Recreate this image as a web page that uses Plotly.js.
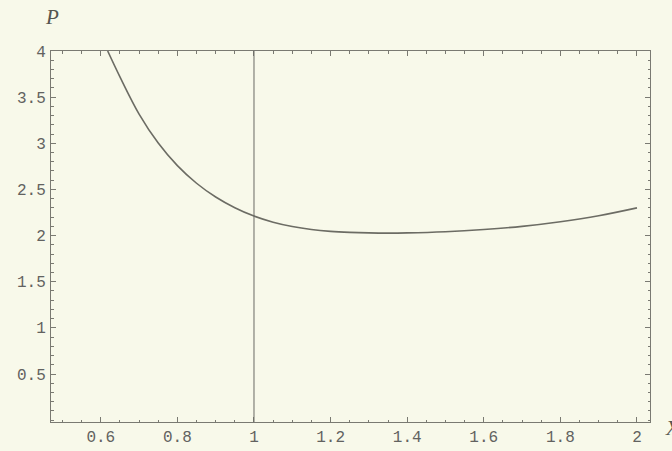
<!DOCTYPE html>
<html>
<head>
<meta charset="utf-8">
<script src="https://cdn.plot.ly/plotly-3.0.1.min.js"></script>
<style>
  html, body { margin: 0; padding: 0; background: #f8f9ea; }
  #chart { width: 672px; height: 451px; }
</style>
</head>
<body>
<div id="chart"></div>
<script>
// Curve values
const xValues = [0.618, 0.65, 0.7, 0.75, 0.8, 0.85, 0.9, 0.95, 1.0, 1.05, 1.1, 1.15, 1.2, 1.25, 1.3, 1.35, 1.4, 1.5, 1.6, 1.7, 1.8, 1.9, 2.0];
const pValues = [4.0, 3.72, 3.317, 3.003, 2.758, 2.567, 2.418, 2.302, 2.211, 2.145, 2.098, 2.066, 2.046, 2.035, 2.029, 2.027, 2.029, 2.042, 2.066, 2.10, 2.15, 2.215, 2.30];
const vlineX = 1;
const xTickVals = [0.6, 0.8, 1, 1.2, 1.4, 1.6, 1.8, 2];
const xTickText = ['0.6', '0.8', '1', '1.2', '1.4', '1.6', '1.8', '2'];
const yTickVals = [0.5, 1, 1.5, 2, 2.5, 3, 3.5, 4];
const yTickText = ['0.5', '1', '1.5', '2', '2.5', '3', '3.5', '4'];

const ink = '#7a7a72';
const tickFont = { family: 'Liberation Mono, DejaVu Sans Mono, monospace', size: 16, color: '#626260' };

const trace = {
  x: xValues, y: pValues, type: 'scatter', mode: 'lines',
  line: { color: '#6c6c64', width: 1.6, shape: 'spline', smoothing: 1 },
  hoverinfo: 'skip', cliponaxis: true
};

const axisCommon = {
  showgrid: false, zeroline: false, showline: true, linecolor: ink, linewidth: 1,
  mirror: 'ticks', ticks: 'inside', ticklen: 5, tickcolor: ink, tickwidth: 1,
  tickfont: tickFont, tickmode: 'array'
};

const layout = {
  width: 672, height: 451,
  margin: { l: 51, r: 22, t: 51, b: 29 },
  paper_bgcolor: '#f8f9ea', plot_bgcolor: '#f8f9ea',
  showlegend: false,
  xaxis: Object.assign({}, axisCommon, {
    range: [0.47, 2.034], tickvals: xTickVals, ticktext: xTickText,
    ticklabelstandoff: 0,
    minor: { dtick: 0.05, tick0: 0, ticks: 'inside', ticklen: 2.5, tickcolor: ink, tickwidth: 1 }
  }),
  yaxis: Object.assign({}, axisCommon, {
    range: [-0.02, 4], tickvals: yTickVals, ticktext: yTickText,
    ticklabelstandoff: 1,
    minor: { dtick: 0.1, tick0: 0, ticks: 'inside', ticklen: 2.5, tickcolor: ink, tickwidth: 1 }
  }),
  shapes: [{
    type: 'line', xref: 'x', yref: 'paper', x0: vlineX, x1: vlineX, y0: 0, y1: 1,
    line: { color: '#6a6a64', width: 1 }
  }],
  annotations: [
    { text: 'P', xref: 'paper', yref: 'paper', x: 0.002, y: 1.0, yshift: 34, xanchor: 'center', yanchor: 'middle',
      showarrow: false, font: { family: 'Liberation Serif, serif', size: 21, color: '#55554f', style: 'italic' } },
    { text: 'X', xref: 'paper', yref: 'paper', x: 1.022, y: 0, yshift: -6, xanchor: 'left', yanchor: 'middle',
      showarrow: false, font: { family: 'Liberation Serif, serif', size: 21, color: '#55554f', style: 'italic' } }
  ]
};

Plotly.newPlot('chart', [trace], layout, { displayModeBar: false, staticPlot: true });
</script>
</body>
</html>
